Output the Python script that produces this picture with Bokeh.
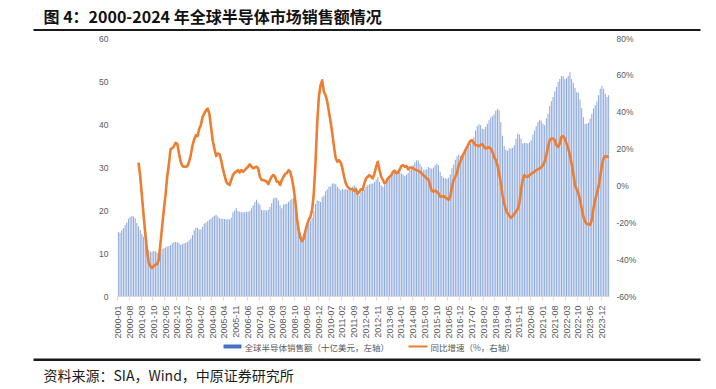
from bokeh.plotting import figure
from bokeh.layouts import column
from bokeh.models import (ColumnDataSource, Range1d, LinearAxis, FixedTicker,
                          PrintfTickFormatter, Label, BoxAnnotation)
from bokeh.embed import file_html
from bokeh.resources import INLINE

# ---------------- data ----------------
title_text = "图 4：2000-2024 年全球半导体市场销售额情况"
source_text = "资料来源：SIA，Wind，中原证券研究所"
legend_bar = "全球半导体销售额（十亿美元，左轴）"
legend_line = "同比增速（%，右轴）"

tick_labels = ["2000-01", "2000-08", "2001-03", "2001-10", "2002-05", "2002-12", "2003-07",
               "2004-02", "2004-09", "2005-04", "2005-11", "2006-06", "2007-01", "2007-08",
               "2008-03", "2008-10", "2009-05", "2009-12", "2010-07", "2011-02", "2011-09",
               "2012-04", "2012-11", "2013-06", "2014-01", "2014-08", "2015-03", "2015-10",
               "2016-05", "2016-12", "2017-07", "2018-02", "2018-09", "2019-04", "2019-11",
               "2020-06", "2021-01", "2021-08", "2022-03", "2022-10", "2023-05", "2023-12"]

# monthly global semiconductor sales (USD bn), 2000-01 .. 2024-04
sales = [
    15.0, 14.8, 15.4, 15.9, 16.6, 17.2, 18.1, 18.5, 18.7, 18.6, 18.2, 17.1,  # 2000
    16.3, 15.4, 14.5, 13.9, 12.7, 11.6, 10.8, 10.4, 10.4, 10.6, 10.5, 10.2,  # 2001
    10.0, 10.4, 11.0, 11.2, 11.4, 11.6, 11.7, 12.0, 12.4, 12.6, 12.7, 12.6,  # 2002
    12.4, 12.0, 12.2, 12.4, 12.5, 12.7, 13.1, 13.5, 14.3, 15.4, 16.0, 16.0,  # 2003
    15.6, 15.6, 16.2, 17.0, 17.2, 17.5, 17.9, 18.1, 18.5, 18.8, 19.0, 18.6,  # 2004
    18.2, 18.1, 18.1, 18.0, 17.9, 18.0, 17.9, 18.3, 19.6, 20.0, 20.5, 19.9,  # 2005
    19.7, 19.6, 19.6, 19.6, 19.7, 19.7, 19.9, 20.5, 21.2, 21.9, 22.5, 21.8,  # 2006
    21.4, 20.2, 20.0, 20.1, 20.0, 20.2, 20.8, 21.7, 22.8, 23.0, 22.9, 22.3,  # 2007
    21.2, 20.5, 21.4, 21.5, 21.6, 22.0, 22.4, 22.7, 22.9, 20.8, 18.5, 16.2,  # 2008
    14.8, 14.2, 14.6, 15.4, 16.2, 16.9, 17.6, 18.4, 19.8, 21.5, 22.4, 22.2,  # 2009
    22.0, 23.1, 23.5, 24.5, 24.9, 25.5, 25.6, 26.3, 26.3, 26.1, 25.5, 25.1,  # 2010
    24.7, 25.0, 24.9, 25.0, 24.8, 24.9, 25.0, 25.5, 25.9, 25.5, 24.0, 23.5,  # 2011
    24.3, 24.7, 24.8, 25.5, 25.9, 26.1, 26.2, 26.3, 26.7, 27.2, 27.8, 26.7,  # 2012
    25.9, 25.5, 25.9, 27.0, 27.4, 27.8, 28.2, 28.6, 29.0, 28.8, 29.4, 29.0,  # 2013
    28.6, 28.4, 28.0, 28.3, 28.8, 29.4, 30.0, 30.5, 31.2, 31.7, 31.6, 30.9,  # 2014
    30.2, 29.5, 29.4, 29.6, 30.1, 29.9, 29.7, 30.0, 30.6, 30.9, 30.5, 29.0,  # 2015
    28.0, 27.6, 27.5, 27.4, 27.6, 28.4, 29.8, 30.7, 31.8, 32.6, 33.0, 32.7,  # 2016
    33.0, 33.1, 33.6, 34.1, 34.8, 35.6, 36.3, 37.0, 38.6, 39.6, 40.0, 39.8,  # 2017
    39.0, 38.9, 39.5, 40.2, 41.0, 41.6, 41.9, 42.4, 43.2, 43.6, 43.3, 40.5,  # 2018
    37.4, 35.0, 34.1, 33.9, 34.5, 34.4, 34.6, 35.2, 36.7, 37.9, 37.7, 36.7,  # 2019
    35.6, 35.7, 35.7, 35.6, 35.8, 36.3, 37.7, 38.6, 39.6, 40.6, 41.1, 40.9,  # 2020
    40.2, 39.8, 41.4, 42.5, 44.3, 45.4, 46.4, 47.7, 48.7, 49.9, 50.6, 51.3,  # 2021
    51.2, 50.5, 50.8, 51.3, 52.2, 50.6, 49.7, 48.5, 47.5, 47.4, 45.8, 43.8,  # 2022
    41.7, 40.2, 40.2, 40.4, 41.4, 42.5, 43.7, 44.5, 45.4, 46.8, 48.3, 49.0,  # 2023
    48.3, 47.2, 46.4, 46.8,                                                  # 2024
]

# year-on-year growth (%), 2001-01 .. 2024-04
yoy = [
    12.6, 5.0, -5.5, -16.0, -26.0, -35.0, -41.5, -43.5, -44.5, -43.5, -42.7, -42.5,  # 2001
    -40.0, -31.0, -22.0, -13.0, -5.0, 5.0, 12.0, 20.0, 20.5, 21.5, 23.4, 22.7,       # 2002
    17.6, 13.1, 10.8, 10.4, 10.4, 10.8, 13.1, 16.7, 22.0, 25.2, 27.5, 27.0,          # 2003
    31.0, 33.0, 37.5, 39.2, 41.0, 42.0, 39.3, 32.0, 24.8, 20.3, 16.2, 17.6,          # 2004
    17.2, 14.0, 9.5, 5.9, 2.3, 1.1, 0.5, 3.2, 5.9, 7.2, 7.7, 8.6,                    # 2005
    7.2, 8.6, 7.7, 8.6, 9.5, 10.4, 11.7, 10.4, 9.5, 10.0, 10.4, 9.5,                 # 2006
    5.0, 3.2, 3.2, 2.8, 2.3, 1.0, 3.2, 5.0, 6.0, 5.0, 2.3, 2.3,                      # 2007
    0.5, 3.2, 5.0, 6.5, 7.0, 8.6, 7.7, 4.0, -1.0, -8.0, -17.5, -24.0,                # 2008
    -28.0, -30.0, -28.5, -24.5, -21.0, -18.4, -16.6, -13.0, -4.0, 12.2, 33.8, 48.3,  # 2009
    54.6, 57.3, 51.0, 49.2, 45.6, 40.2, 34.7, 28.4, 21.2, 15.0, 13.1, 14.0,          # 2010
    12.6, 9.5, 5.0, 1.4, -0.4, -1.3, -1.8, -1.8, -2.6, -1.8, -4.4, -3.1,             # 2011
    -1.8, -2.2, 1.4, 4.1, 5.0, 5.9, 5.0, 4.1, 6.8, 10.4, 13.1, 8.6,                  # 2012
    5.0, 3.2, 1.4, 2.3, 4.1, 5.0, 5.9, 7.7, 8.3, 6.8, 7.2, 9.0,                      # 2013
    10.8, 11.3, 10.4, 10.8, 9.0, 10.0, 10.0, 9.5, 9.0, 8.6, 8.2, 7.7,                # 2014
    6.8, 5.9, 5.0, 4.1, 3.6, 0.5, -2.6, -3.1, -2.6, -3.1, -4.0, -5.8,                # 2015
    -5.8, -5.5, -6.2, -6.7, -7.6, -5.8, -0.4, 3.2, 5.0, 7.2, 11.3, 13.1,             # 2016
    15.8, 17.6, 19.4, 21.2, 23.0, 24.5, 24.8, 23.4, 22.1, 22.1, 21.6, 22.1,          # 2017
    22.7, 21.2, 20.3, 20.8, 20.9, 20.3, 18.5, 15.8, 14.0, 11.3, 6.8, 1.4,            # 2018
    -4.9, -9.4, -13.0, -14.8, -16.2, -17.3, -16.5, -15.2, -13.9, -12.6, -9.4, -2.2,  # 2019
    3.2, 5.9, 5.0, 5.0, 5.9, 6.5, 7.2, 7.7, 8.6, 9.0, 9.5, 10.1,                     # 2020
    11.3, 13.1, 16.7, 21.2, 24.8, 25.7, 25.7, 24.8, 22.1, 21.2, 23.0, 26.6,          # 2021
    27.0, 25.7, 23.0, 20.3, 16.7, 12.2, 6.8, 0.5, -1.8, -4.0, -7.6, -12.1,           # 2022
    -16.6, -19.3, -20.6, -20.8, -21.1, -18.4, -12.1, -7.6, -4.0, -0.4, 5.0, 11.3,    # 2023
    15.0, 16.2, 15.8, 16.2,                                                          # 2024
]

left_ticks = [0, 10, 20, 30, 40, 50, 60]
right_ticks = [-60, -40, -20, 0, 20, 40, 60, 80]

months = [f"{y}-{m:02d}" for y in range(2000, 2025) for m in range(1, 13)][:len(sales)]
idx = list(range(len(months)))
yoy_offset = len(sales) - len(yoy)

bar_src = ColumnDataSource(dict(x=idx, top=sales))
line_src = ColumnDataSource(dict(x=idx[yoy_offset:], y=yoy))

W = 708
lab_col = "#595959"
tick_font = "Liberation Sans"
cjk = "Noto Sans CJK SC"


def blank(h):
    f = figure(width=W, height=h, x_range=Range1d(0, W), y_range=Range1d(h, 0),
               output_backend="svg", toolbar_location=None, x_axis_type=None,
               y_axis_type=None, min_border=0, min_border_left=0, min_border_right=0,
               min_border_top=0, min_border_bottom=0, frame_align=False)
    f.outline_line_color = None
    f.xgrid.visible = False
    f.ygrid.visible = False
    return f


def rect(f, l, r, t, b, color):
    f.add_layout(BoxAnnotation(left=l, right=r, top=t, bottom=b, fill_color=color,
                               fill_alpha=1, line_color=None))


# ---------------- header ----------------
H1 = 32
head = blank(H1)
head.add_layout(Label(x=43, y=15, text=title_text, text_font=cjk,
                      text_font_style="bold", text_font_size="16px",
                      text_color="#111111", text_baseline="middle"))
rect(head, 33, 700, 28.5, 30.6, "#1a1a1a")

# ---------------- main chart ----------------
H2 = 309
p = figure(width=W, height=H2, x_range=Range1d(-0.5, len(idx) - 0.5),
           y_range=Range1d(0, 60), output_backend="svg", toolbar_location=None,
           min_border_left=117, min_border_right=99, min_border_top=6,
           min_border_bottom=44, frame_align=False)
p.outline_line_color = None
p.xgrid.visible = False
p.ygrid.visible = False
p.extra_y_ranges = {"pct": Range1d(-60, 80)}

p.vbar(x="x", top="top", width=0.62, bottom=0, source=bar_src,
       fill_color="#8faadc", line_color=None)
p.line(x="x", y="y", source=line_src, y_range_name="pct",
       line_color="#ed7d31", line_width=2.6, line_join="round")

xa = p.xaxis[0]
tick_pos = [months.index(t) for t in tick_labels]
xa.ticker = FixedTicker(ticks=tick_pos, minor_ticks=[t - 0.5 for t in tick_pos])
xa.major_label_overrides = {t: l for t, l in zip(tick_pos, tick_labels)}
xa.major_label_orientation = 1.5708
xa.major_label_text_font = tick_font
xa.major_label_text_font_size = "9px"
xa.major_label_text_color = lab_col
xa.axis_line_color = "#d9d9d9"
xa.major_tick_line_color = None
xa.major_tick_out = 0
xa.major_tick_in = 0
xa.minor_tick_line_color = "#d9d9d9"
xa.minor_tick_out = 4
xa.minor_tick_in = 0
xa.major_label_standoff = 5

ya = p.yaxis[0]
ya.ticker = FixedTicker(ticks=left_ticks)
ya.axis_line_color = None
ya.major_tick_line_color = None
ya.minor_tick_line_color = None
ya.major_tick_out = 0
ya.major_label_standoff = 9
ya.major_label_text_font = tick_font
ya.major_label_text_font_size = "8.5px"
ya.major_label_text_color = lab_col

ra = LinearAxis(y_range_name="pct", ticker=FixedTicker(ticks=right_ticks),
                formatter=PrintfTickFormatter(format="%d%%"))
ra.axis_line_color = None
ra.major_tick_line_color = None
ra.minor_tick_line_color = None
ra.major_tick_out = 0
ra.major_label_standoff = 7
ra.major_label_text_font = tick_font
ra.major_label_text_font_size = "8.5px"
ra.major_label_text_color = lab_col
p.add_layout(ra, "right")

# ---------------- footer: legend, rule, source ----------------
H3 = 48
foot = blank(H3)
rect(foot, 223, 241, 3, 7, "#4472c4")
foot.add_layout(Label(x=244, y=5, text=legend_bar, text_font=cjk,
                      text_font_size="8.5px", text_color=lab_col,
                      text_baseline="middle"))
rect(foot, 408, 427, 4, 6, "#ed7d31")
foot.add_layout(Label(x=430, y=5, text=legend_line, text_font=cjk,
                      text_font_size="8.5px", text_color=lab_col,
                      text_baseline="middle"))
rect(foot, 33, 700, 17, 19.5, "#1a1a1a")
foot.add_layout(Label(x=43, y=33, text=source_text, text_font=cjk,
                      text_font_size="14px", text_color="#1a1a1a",
                      text_baseline="middle"))

layout = column(head, p, foot, spacing=0)
open("out.html", "w").write(file_html(layout, INLINE))
